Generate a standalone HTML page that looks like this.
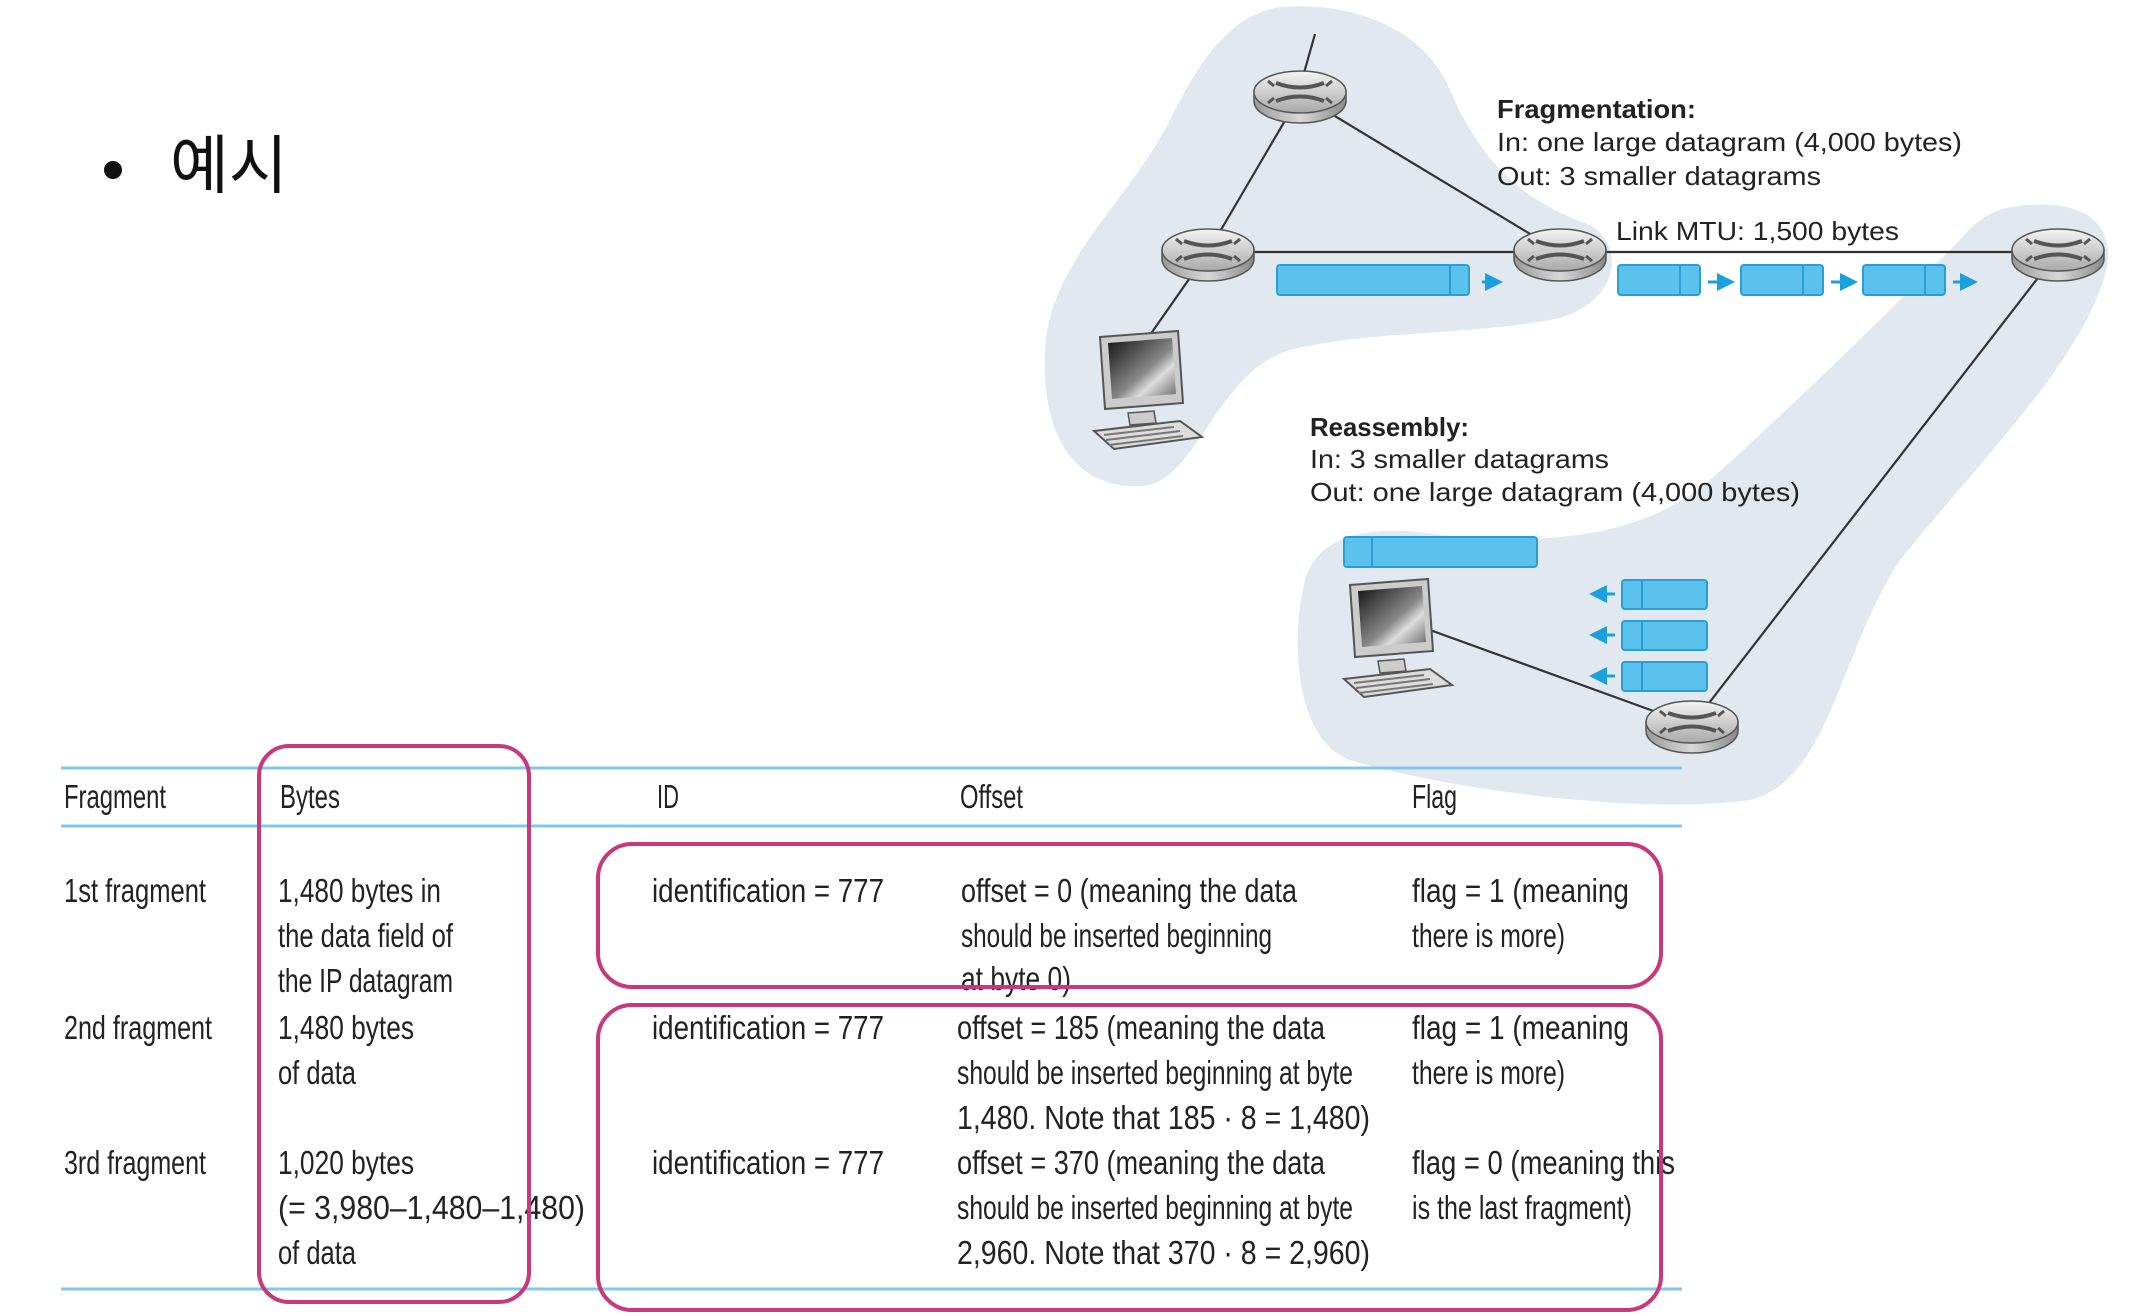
<!DOCTYPE html>
<html><head><meta charset="utf-8"><style>
html,body{margin:0;padding:0;background:#fff;}
svg{display:block;}
.t{font-family:"Liberation Sans",sans-serif;}
.c{font-family:"Liberation Sans",sans-serif;font-size:33px;fill:#222;}
</style></head><body>
<svg width="2132" height="1316" viewBox="0 0 2132 1316" xmlns="http://www.w3.org/2000/svg">
<defs>
<linearGradient id="rg" x1="0" y1="0" x2="0" y2="1"><stop offset="0" stop-color="#f4f4f4"/><stop offset="1" stop-color="#a9a9a9"/></linearGradient>
<linearGradient id="rs" x1="0" y1="0" x2="1" y2="0"><stop offset="0" stop-color="#9a9a9a"/><stop offset="0.5" stop-color="#d8d8d8"/><stop offset="1" stop-color="#8a8a8a"/></linearGradient>
<linearGradient id="scr" x1="0" y1="0" x2="1" y2="1"><stop offset="0" stop-color="#111"/><stop offset="0.55" stop-color="#888"/><stop offset="0.7" stop-color="#ddd"/><stop offset="1" stop-color="#666"/></linearGradient>
<g id="router">
<path d="M-46,0 v9 a46,22 0 0 0 92,0 v-9 z" fill="url(#rs)" stroke="#555" stroke-width="1.5"/>
<ellipse cx="0" cy="0" rx="46" ry="21" fill="url(#rg)" stroke="#555" stroke-width="1.5"/>
<path d="M-24,-9 Q0,0 24,-9 M-24,9 Q0,0 24,9" stroke="#555" stroke-width="4" fill="none"/>
<path d="M-26,-6 l-6,-5 M26,-6 l6,-5 M-26,6 l-6,5 M26,6 l6,5" stroke="#555" stroke-width="3"/>
</g>
<g id="pc">
<path d="M0,0 l78,-6 l5,72 l-78,6 z" fill="#ccc" stroke="#555" stroke-width="2"/>
<path d="M8,6 l64,-5 l4,56 l-64,5 z" fill="url(#scr)"/>
<path d="M28,76 l26,-2 l2,12 l-26,2 z" fill="#ccc" stroke="#555" stroke-width="1.5"/>
<path d="M-6,94 l86,-10 l22,16 l-88,12 z" fill="#ddd" stroke="#555" stroke-width="2"/>
<path d="M4,98 l70,-8 M6,103 l74,-9 M9,108 l74,-9" stroke="#777" stroke-width="2"/>
</g>
<marker id="ar" markerWidth="6" markerHeight="6" refX="5" refY="3" orient="auto"><path d="M0,0 L6,3 L0,6 z" fill="#1aa0dc"/></marker>
</defs>

<circle cx="113" cy="170" r="9" fill="#111"/>
<text x="170" y="188" font-family="'Liberation Sans','Noto Sans CJK KR',sans-serif" font-size="64" fill="#111">예시</text>

<path d="M1280,7 C1340,2 1420,20 1450,90 C1480,160 1520,200 1590,225 C1625,245 1620,300 1560,318 C1480,335 1370,330 1290,350 C1220,370 1200,470 1150,485 C1080,495 1040,440 1045,350 C1050,260 1130,200 1170,120 C1200,60 1230,15 1280,7 z" fill="#e1e8f0"/>
<path d="M2030,205 C2090,200 2125,230 2100,290 C2070,370 1990,450 1900,560 C1840,650 1830,780 1750,800 C1640,815 1450,790 1350,760 C1295,740 1290,640 1305,580 C1320,530 1380,525 1440,535 C1540,545 1640,540 1710,480 C1800,400 1900,300 1960,240 C1980,215 2000,206 2030,205 z" fill="#e1e8f0"/>

<g stroke="#333" stroke-width="2.2" fill="none">
<line x1="1315" y1="34" x2="1302" y2="80"/>
<line x1="1300" y1="95" x2="1208" y2="252"/>
<line x1="1300" y1="95" x2="1560" y2="252"/>
<line x1="1208" y1="252" x2="1560" y2="252"/>
<line x1="1560" y1="252" x2="2058" y2="252"/>
<line x1="1208" y1="252" x2="1150" y2="335"/>
<line x1="2058" y1="252" x2="1692" y2="725"/>
<line x1="1692" y1="725" x2="1430" y2="630"/>
</g>

<use href="#router" x="1300" y="92"/>
<use href="#router" x="1208" y="250"/>
<use href="#router" x="1560" y="250"/>
<use href="#router" x="2058" y="250"/>
<use href="#router" x="1692" y="722"/>
<use href="#pc" x="1100" y="337"/>
<use href="#pc" x="1350" y="585"/>

<g fill="#5bc2ee" stroke="#2a9ed6" stroke-width="2">
<rect x="1277" y="265" width="192" height="30" rx="3"/>
<rect x="1618" y="265" width="82" height="30" rx="3"/>
<rect x="1741" y="265" width="82" height="30" rx="3"/>
<rect x="1863" y="265" width="82" height="30" rx="3"/>
<rect x="1344" y="537" width="193" height="30" rx="3"/>
<rect x="1622" y="580" width="85" height="29" rx="3"/>
<rect x="1622" y="621" width="85" height="29" rx="3"/>
<rect x="1622" y="662" width="85" height="29" rx="3"/>
</g>
<g stroke="#2a9ed6" stroke-width="2">
<line x1="1450" y1="265" x2="1450" y2="295"/>
<line x1="1680" y1="265" x2="1680" y2="295"/>
<line x1="1803" y1="265" x2="1803" y2="295"/>
<line x1="1925" y1="265" x2="1925" y2="295"/>
<line x1="1372" y1="537" x2="1372" y2="567"/>
<line x1="1642" y1="580" x2="1642" y2="609"/>
<line x1="1642" y1="621" x2="1642" y2="650"/>
<line x1="1642" y1="662" x2="1642" y2="691"/>
</g>
<g stroke="#1aa0dc" stroke-width="3" marker-end="url(#ar)">
<line x1="1482" y1="282" x2="1500" y2="282"/>
<line x1="1708" y1="282" x2="1732" y2="282"/>
<line x1="1831" y1="282" x2="1855" y2="282"/>
<line x1="1953" y1="282" x2="1975" y2="282"/>
<line x1="1615" y1="594" x2="1592" y2="594"/>
<line x1="1615" y1="635" x2="1592" y2="635"/>
<line x1="1615" y1="676" x2="1592" y2="676"/>
</g>

<g class="t" font-size="26" fill="#222">
<text x="1497" y="118" font-weight="bold" textLength="199" lengthAdjust="spacingAndGlyphs">Fragmentation:</text>
<text x="1497" y="151" textLength="465" lengthAdjust="spacingAndGlyphs">In: one large datagram (4,000 bytes)</text>
<text x="1497" y="185" textLength="324" lengthAdjust="spacingAndGlyphs">Out: 3 smaller datagrams</text>
<text x="1616" y="240" textLength="283" lengthAdjust="spacingAndGlyphs">Link MTU: 1,500 bytes</text>
<text x="1310" y="436" font-weight="bold" textLength="159" lengthAdjust="spacingAndGlyphs">Reassembly:</text>
<text x="1310" y="468" textLength="299" lengthAdjust="spacingAndGlyphs">In: 3 smaller datagrams</text>
<text x="1310" y="501" textLength="490" lengthAdjust="spacingAndGlyphs">Out: one large datagram (4,000 bytes)</text>
</g>

<g stroke="#7fc8ec" stroke-width="3">
<line x1="61" y1="768" x2="1682" y2="768"/>
<line x1="61" y1="826" x2="1682" y2="826"/>
<line x1="61" y1="1289" x2="1682" y2="1289"/>
</g>

<g class="c">
<text x="64" y="808" textLength="102" lengthAdjust="spacingAndGlyphs">Fragment</text>
<text x="280" y="808" textLength="60" lengthAdjust="spacingAndGlyphs">Bytes</text>
<text x="657" y="808" textLength="22" lengthAdjust="spacingAndGlyphs">ID</text>
<text x="960" y="808" textLength="63" lengthAdjust="spacingAndGlyphs">Offset</text>
<text x="1412" y="808" textLength="45" lengthAdjust="spacingAndGlyphs">Flag</text>

<text x="64" y="902" textLength="142" lengthAdjust="spacingAndGlyphs">1st fragment</text>
<text x="64" y="1039" textLength="148" lengthAdjust="spacingAndGlyphs">2nd fragment</text>
<text x="64" y="1174" textLength="142" lengthAdjust="spacingAndGlyphs">3rd fragment</text>

<text x="278" y="902" textLength="163" lengthAdjust="spacingAndGlyphs">1,480 bytes in</text>
<text x="278" y="947" textLength="175" lengthAdjust="spacingAndGlyphs">the data field of</text>
<text x="278" y="992" textLength="175" lengthAdjust="spacingAndGlyphs">the IP datagram</text>
<text x="278" y="1039" textLength="136" lengthAdjust="spacingAndGlyphs">1,480 bytes</text>
<text x="278" y="1084" textLength="78" lengthAdjust="spacingAndGlyphs">of data</text>
<text x="278" y="1174" textLength="136" lengthAdjust="spacingAndGlyphs">1,020 bytes</text>
<text x="278" y="1219" textLength="307" lengthAdjust="spacingAndGlyphs">(= 3,980–1,480–1,480)</text>
<text x="278" y="1264" textLength="78" lengthAdjust="spacingAndGlyphs">of data</text>

<text x="652" y="902" textLength="232" lengthAdjust="spacingAndGlyphs">identification = 777</text>
<text x="652" y="1039" textLength="232" lengthAdjust="spacingAndGlyphs">identification = 777</text>
<text x="652" y="1174" textLength="232" lengthAdjust="spacingAndGlyphs">identification = 777</text>

<text x="961" y="902" textLength="336" lengthAdjust="spacingAndGlyphs">offset = 0 (meaning the data</text>
<text x="961" y="947" textLength="311" lengthAdjust="spacingAndGlyphs">should be inserted beginning</text>
<text x="961" y="990" textLength="110" lengthAdjust="spacingAndGlyphs">at byte 0)</text>
<text x="957" y="1039" textLength="368" lengthAdjust="spacingAndGlyphs">offset = 185 (meaning the data</text>
<text x="957" y="1084" textLength="396" lengthAdjust="spacingAndGlyphs">should be inserted beginning at byte</text>
<text x="957" y="1129" textLength="413" lengthAdjust="spacingAndGlyphs">1,480. Note that 185 · 8 = 1,480)</text>
<text x="957" y="1174" textLength="368" lengthAdjust="spacingAndGlyphs">offset = 370 (meaning the data</text>
<text x="957" y="1219" textLength="396" lengthAdjust="spacingAndGlyphs">should be inserted beginning at byte</text>
<text x="957" y="1264" textLength="413" lengthAdjust="spacingAndGlyphs">2,960. Note that 370 · 8 = 2,960)</text>

<text x="1412" y="902" textLength="217" lengthAdjust="spacingAndGlyphs">flag = 1 (meaning</text>
<text x="1412" y="947" textLength="153" lengthAdjust="spacingAndGlyphs">there is more)</text>
<text x="1412" y="1039" textLength="217" lengthAdjust="spacingAndGlyphs">flag = 1 (meaning</text>
<text x="1412" y="1084" textLength="153" lengthAdjust="spacingAndGlyphs">there is more)</text>
<text x="1412" y="1174" textLength="263" lengthAdjust="spacingAndGlyphs">flag = 0 (meaning this</text>
<text x="1412" y="1219" textLength="220" lengthAdjust="spacingAndGlyphs">is the last fragment)</text>
</g>

<g fill="none" stroke="#c8387a" stroke-width="4">
<rect x="259" y="746" width="270" height="556" rx="30"/>
<rect x="598" y="844" width="1063" height="143" rx="34"/>
<rect x="598" y="1005" width="1063" height="305" rx="34"/>
</g>
</svg>
</body></html>
